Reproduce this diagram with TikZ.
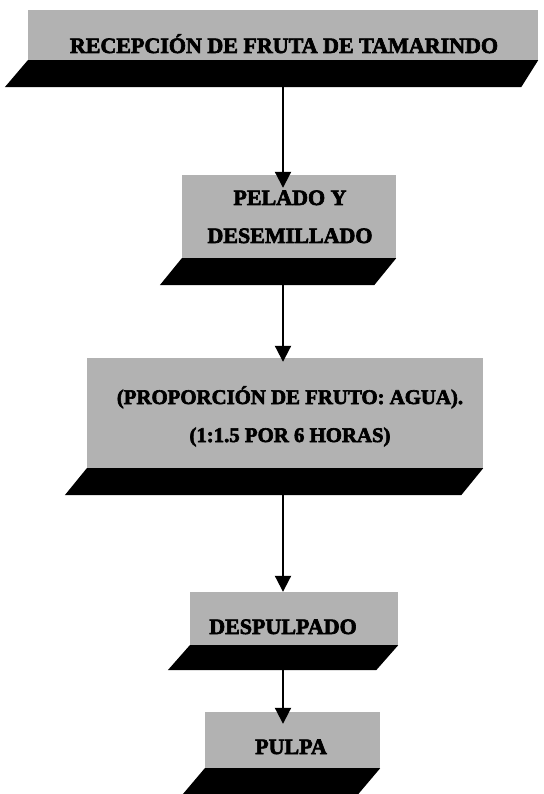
\documentclass[tikz,border=0pt]{standalone}
\usepackage{fontspec}
\setmainfont{Liberation Serif}
\newfontfamily\heavyserif[FakeBold=3]{Liberation Serif Bold}
\usetikzlibrary{calc,arrows.meta}
\begin{document}
\begin{tikzpicture}[x=1pt,y=-1pt,
  plate/.style={draw=none, fill=black!30, inner sep=0pt},
  slab/.style={fill=black},
  caption/.style={font=\heavyserif\fontsize{22}{38}\selectfont, align=center,
    inner sep=0pt, text height=14pt, text depth=0pt},
  flow/.style={line width=2pt, -{Triangle[width=16pt,length=16pt]}}]

\useasboundingbox (0,0) rectangle (543,794);

% process plates (grey tops)
\node[plate, minimum width=510pt, minimum height=50pt] (recep)   at (283,35)  {};
\node[plate, minimum width=214pt, minimum height=83pt] (pelado)  at (289,216.5) {};
\node[plate, minimum width=396pt, minimum height=110pt] (remojo) at (285,413) {};
\node[plate, minimum width=208pt, minimum height=53pt] (despul)  at (294,618.5) {};
\node[plate, minimum width=175pt, minimum height=56pt] (pulpa)   at (292.5,740) {};

% dark slanted slabs under each plate
\foreach \b/\h/\l/\r in {recep/27/23/17, pelado/27/22/22, remojo/27/22/22, despul/25/22/22, pulpa/26/22/22}{
  \fill[slab] (\b.south west) -- (\b.south east) -- ++(-\r,\h)
    -- ($(\b.south west)+(-\l,\h)$) -- cycle;
}

% captions
\node[caption] (recep-t)  at (284,46)  {RECEPCIÓN DE FRUTA DE TAMARINDO};
\node[caption] (pelado-t) at (290,236) {PELADO Y\\DESEMILLADO};
\node[caption, font=\heavyserif\fontsize{20.8}{38}\selectfont] (remojo-t) at (290,435)
  {(PROPORCIÓN DE FRUTO: AGUA).\\(1:1.5 POR 6 HORAS)};
\node[caption] (despul-t) at (283,627) {DESPULPADO};
\node[caption] (pulpa-t)  at (291,747) {PULPA};

% connectors
\coordinate (recep-foot)  at (283,87);
\coordinate (pelado-foot) at (283,285);
\coordinate (remojo-foot) at (283,495);
\coordinate (despul-foot) at (283,670);
\draw[flow] (recep-foot)  -- ($(recep-foot |- pelado.north)+(0,13)$);
\draw[flow] (pelado-foot) -- ($(pelado-foot |- remojo.north)+(0,4)$);
\draw[flow] (remojo-foot) -- ($(remojo-foot |- despul.north)+(0,0)$);
\draw[flow] (despul-foot) -- ($(despul-foot |- pulpa.north)+(0,12)$);
\end{tikzpicture}
\end{document}
